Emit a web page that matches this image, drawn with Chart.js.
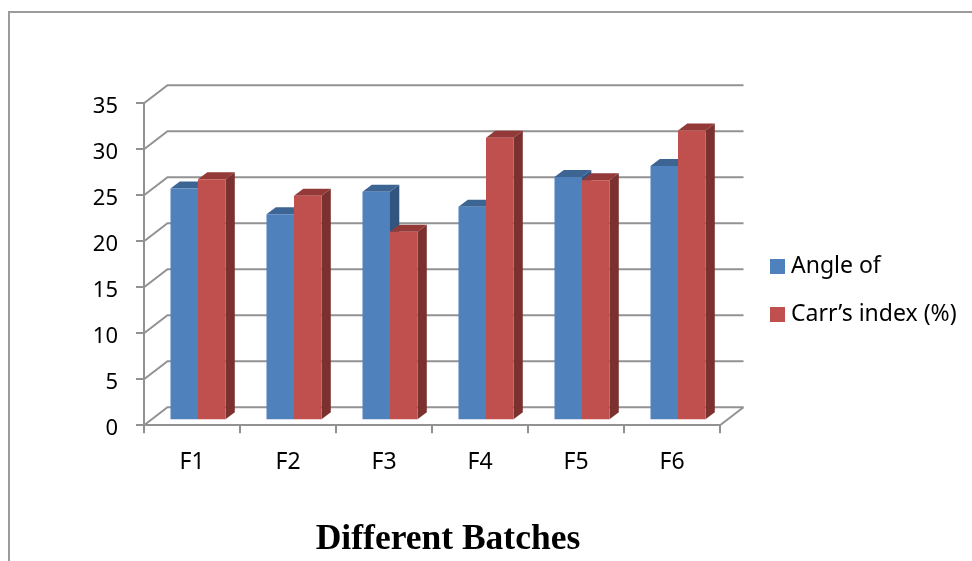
<!DOCTYPE html>
<html>
<head>
<meta charset="utf-8">
<style>html,body{margin:0;padding:0;background:#fff}canvas{display:block}</style>
<script src="https://cdn.jsdelivr.net/npm/chart.js@4"></script>
</head>
<body>
<canvas id="c" width="972" height="561"></canvas>
<script>
// Batch results, two measurements per formulation
const categories = ['F1', 'F2', 'F3', 'F4', 'F5', 'F6'];
const angleOf = [25.2, 22.4, 24.85, 23.2, 26.45, 27.65];
const carrsIndex = [26.2, 24.4, 20.5, 30.7, 26.1, 31.5];
const seriesNames = ['Angle of', 'Carr’s index (%)'];
const axisTitle = 'Different Batches';

const GREY = '#929292';
const BLUE = { front: '#4f81bd', side: '#32557f', top: '#3c6593' };
const RED = { front: '#c0504d', side: '#7b3130', top: '#933a38' };
const WALL = { dx: 23.5, dy: -18 };   // depth of the chart's back wall
const BAR = { dx: 9.3, dy: -7 };      // depth of each column
const LIFT = { x: 6, y: -5 };         // columns stand inside the floor

function swatch(color) {
  const s = document.createElement('canvas');
  s.width = 15; s.height = 15;
  const g = s.getContext('2d');
  g.fillStyle = color;
  g.fillRect(0, 0, 15, 15);
  return s;
}

function poly(ctx, pts, fill) {
  ctx.beginPath();
  pts.forEach((p, i) => i ? ctx.lineTo(p[0], p[1]) : ctx.moveTo(p[0], p[1]));
  ctx.closePath();
  ctx.fillStyle = fill;
  ctx.fill();
}

const depthPlugin = {
  id: 'depth',
  afterLayout(chart) {
    // Legend and axis caption sit at fixed spots beside and below the plot
    const lg = chart.legend;
    lg.left = 750.5; lg.top = 230; lg.bottom = 420; lg.right = 972;
    const t = chart.titleBlock;
    t.left = 114; t.right = 782; t.top = 522; t.bottom = 557;
  },
  beforeDraw(chart) {
    const c = chart.ctx;
    c.save();
    c.fillStyle = '#fff';
    c.fillRect(0, 0, chart.width, chart.height);
    c.strokeStyle = '#9c9c9c';
    c.lineWidth = 2;
    c.beginPath();
    c.moveTo(972, 12); c.lineTo(9, 12); c.lineTo(9, 561);
    c.stroke();
    c.restore();
  },
  beforeDatasetsDraw(chart) {
    const c = chart.ctx;
    const y = chart.scales.y, x = chart.scales.x;
    c.save();
    // Back wall gridlines with their diagonals to the front axis
    c.strokeStyle = GREY;
    c.lineWidth = 2;
    y.ticks.forEach(t => {
      const py = y.getPixelForValue(t.value);
      c.beginPath();
      c.moveTo(x.left, py);
      c.lineTo(x.left + WALL.dx, py + WALL.dy);
      c.lineTo(x.right + WALL.dx, py + WALL.dy);
      c.stroke();
    });
    c.beginPath();
    c.moveTo(x.right, y.bottom);
    c.lineTo(x.right + WALL.dx, y.bottom + WALL.dy);
    c.stroke();
    // Side and top faces of the columns, blue pair first
    c.translate(LIFT.x, LIFT.y);
    [[0, BLUE], [1, RED]].forEach(([i, col]) => {
      chart.getDatasetMeta(i).data.forEach(b => {
        const p = b.getProps(['x', 'y', 'base', 'width']);
        const l = p.x - p.width / 2, r = p.x + p.width / 2;
        poly(c, [[r, p.y], [r + BAR.dx, p.y + BAR.dy], [r + BAR.dx, p.base + BAR.dy], [r, p.base]], col.side);
        poly(c, [[l, p.y], [l + BAR.dx, p.y + BAR.dy], [r + BAR.dx, p.y + BAR.dy], [r, p.y]], col.top);
      });
    });
    c.restore();
  },
  beforeDatasetDraw(chart) {
    chart.ctx.save();
    chart.ctx.translate(LIFT.x, LIFT.y);
  },
  afterDatasetDraw(chart) {
    chart.ctx.restore();
  }
};

new Chart(document.getElementById('c'), {
  type: 'bar',
  data: {
    labels: categories,
    datasets: [
      { label: seriesNames[0], data: angleOf, backgroundColor: BLUE.front, clip: false },
      { label: seriesNames[1], data: carrsIndex, backgroundColor: RED.front, clip: false }
    ]
  },
  plugins: [depthPlugin],
  options: {
    responsive: false,
    animation: false,
    layout: { padding: { top: 103.3, right: 252, left: 0, bottom: 0 } },
    datasets: { bar: { categoryPercentage: 55 / 96, barPercentage: 1, borderWidth: 0 } },
    scales: {
      x: {
        afterFit(s) { s.height = 100.2; },
        border: { color: GREY, width: 2 },
        grid: { color: GREY, lineWidth: 2, drawOnChartArea: false, tickLength: 8, offset: true },
        ticks: { color: '#000', padding: 15, maxRotation: 0, font: { family: '"Noto Sans"', size: 23 } }
      },
      y: {
        min: 0, max: 35,
        afterFit(s) { s.width = 144; },
        border: { color: GREY, width: 2 },
        grid: { color: GREY, lineWidth: 2, drawOnChartArea: false, tickLength: 8 },
        ticks: { stepSize: 5, color: '#000', padding: 18, labelOffset: 3, font: { family: '"Noto Sans"', size: 22 } }
      }
    },
    plugins: {
      tooltip: { enabled: false },
      title: {
        display: true,
        text: axisTitle,
        position: 'bottom',
        padding: 0,
        color: '#000',
        font: { family: '"Liberation Serif"', weight: 'bold', size: 35.5, lineHeight: 1 }
      },
      legend: {
        position: 'chartArea',
        align: 'start',
        labels: {
          usePointStyle: true,
          pointStyleWidth: 4,
          padding: 25,
          color: '#000',
          font: { family: '"Noto Sans"', size: 23 },
          generateLabels(chart) {
            const items = Chart.defaults.plugins.legend.labels.generateLabels(chart);
            items.forEach(it => { it.pointStyle = swatch(it.fillStyle); });
            return items;
          }
        }
      }
    }
  }
});
</script>
</body>
</html>
